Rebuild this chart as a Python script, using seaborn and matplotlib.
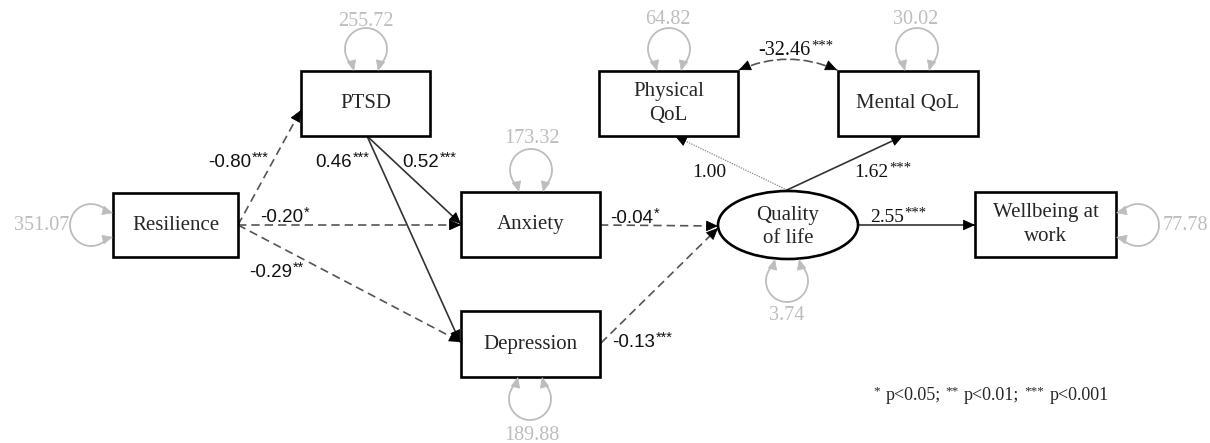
import numpy as np
import seaborn as sns
from matplotlib import pyplot as plt
from matplotlib.patches import Rectangle, Ellipse, Arc

# ---------------------------------------------------------------------------
# model values
nodes = ['Resilience', 'PTSD', 'Anxiety', 'Depression',
         'Physical\nQoL', 'Mental QoL', 'Quality\nof life', 'Wellbeing at\nwork']
variances = [351.07, 255.72, 173.32, 189.88, 64.82, 30.02, 3.74, 77.78]

path_from = ['Resilience', 'Resilience', 'Resilience', 'PTSD', 'PTSD',
             'Anxiety', 'Depression', 'Quality\nof life', 'Quality\nof life', 'Quality\nof life']
path_to = ['PTSD', 'Anxiety', 'Depression', 'Anxiety', 'Depression',
           'Quality\nof life', 'Quality\nof life', 'Physical\nQoL', 'Mental QoL', 'Wellbeing at\nwork']
estimates = [-0.80, -0.20, -0.29, 0.52, 0.46, -0.04, -0.13, 1.00, 1.62, 2.55]
signif = ['***', '*', '**', '***', '***', '*', '***', '', '***', '***']

cov_pair = ['Physical\nQoL', 'Mental QoL']
cov_estimate = -32.46
cov_signif = '***'

note_stars = ['*', '**', '***']
note_text = ['p<0.05;', 'p<0.01;', 'p<0.001']

# ---------------------------------------------------------------------------
# layout (pixel coordinates, y going down)
W, H = 1210, 443
box_layout = {
    'Resilience': (175.5, 225, 125, 64),
    'PTSD': (365.5, 103.5, 129, 65),
    'Anxiety': (530.5, 224.5, 139, 65),
    'Depression': (530.5, 344, 139, 66),
    'Physical\nQoL': (668.5, 103.5, 139, 65),
    'Mental QoL': (908, 103.5, 140, 65),
    'Wellbeing at\nwork': (1045.5, 224.5, 141, 65),
}
ellipse_layout = {'Quality\nof life': (788, 225, 140, 68)}

# loop centre, direction towards the node, label position, label alignment
loop_layout = {
    'Resilience': ((91, 225), 0, (69, 230), 'right'),
    'PTSD': ((366, 49), 90, (366, 26), 'center'),
    'Anxiety': ((531, 170), 90, (532, 143), 'center'),
    'Depression': ((530, 399), 270, (532, 440), 'center'),
    'Physical\nQoL': ((669, 49), 90, (668, 24), 'center'),
    'Mental QoL': ((917, 49), 90, (916, 24), 'center'),
    'Quality\nof life': ((787, 281), 270, (787, 320), 'center'),
    'Wellbeing at\nwork': ((1138, 225), 180, (1163, 230), 'left'),
}

line_styles = {'--': (0, (5, 3)), '-': '-', ':': (0, (1, 1))}

# start, end, line style, colour, label position, label family
edge_layout = [
    ((238, 225), (301, 110), '--', '#555555', (208, 167), 'Liberation Sans'),
    ((238, 225), (461, 225), '--', '#555555', (260, 222), 'Liberation Sans'),
    ((238, 225), (461, 342), '--', '#555555', (249, 277), 'Liberation Sans'),
    ((367, 136), (461, 224), '-', '#333333', (402, 167), 'Liberation Sans'),
    ((367, 136), (460, 342), '-', '#333333', (315, 167), 'Liberation Sans'),
    ((600, 225), (718, 226), '--', '#555555', (610, 223), 'Liberation Sans'),
    ((601, 343), (718, 228), '--', '#555555', (612, 347), 'Liberation Sans'),
    ((787, 190), (675, 136), ':', '#888888', (692, 177), 'Liberation Serif'),
    ((787, 190), (903, 136), '-', '#333333', (854, 177), 'Liberation Serif'),
    ((858, 225), (975, 225), '-', '#333333', (870, 222), 'Liberation Serif'),
]
cov_layout = ((739, 70), (837, 70), -0.22, (758, 55))
note_pos = (873, 400)

grey = '#bdbdbd'

# ---------------------------------------------------------------------------
sns.set_theme(style='white')
plt.rcParams['font.family'] = ['Liberation Serif', 'DejaVu Sans']

fig = plt.figure(figsize=(W / 100, H / 100), dpi=100)
ax = fig.add_axes([0, 0, 1, 1])
ax.set_xlim(0, W)
ax.set_ylim(H, 0)
ax.axis('off')


def head(p0, p1, color='black', size=10, scale=10):
    d = np.subtract(p1, p0).astype(float)
    d = d / np.hypot(*d)
    start = np.asarray(p1, float) - d * size
    ax.annotate('', xy=p1, xytext=start,
                arrowprops=dict(arrowstyle='-|>,head_length=0.75,head_width=0.34',
                                mutation_scale=scale, color=color, lw=0.6,
                                shrinkA=0, shrinkB=0))


def coef_label(x, y, value, stars, family, size):
    t = ax.text(x, y, f'{value:.2f}', fontsize=size, family=family,
                ha='left', va='baseline', color='#111111')
    if stars:
        ax.annotate(stars, xy=(1, y), xycoords=(t, 'data'),
                    xytext=(0.5, 4), textcoords='offset points',
                    fontsize=10.5, family=family, ha='left', va='baseline', color='#111111')


# nodes
for name in nodes:
    if name in box_layout:
        cx, cy, w, h = box_layout[name]
        ax.add_patch(Rectangle((cx - w / 2, cy - h / 2), w, h, fill=True, fc='white',
                               ec='black', lw=1.9, zorder=3))
        ax.text(cx, cy, name, ha='center', va='center', fontsize=15,
                linespacing=1.35, zorder=4)
    else:
        cx, cy, w, h = ellipse_layout[name]
        ax.add_patch(Ellipse((cx, cy), w, h, fc='white', ec='black', lw=1.9, zorder=3))
        ax.text(cx, cy + 2, name, ha='center', va='center', fontsize=15,
                linespacing=1.35, zorder=4)

# variance loops
r, spread = 21, 40
for name, var in zip(nodes, variances):
    (cx, cy), gap, (lx, ly), ha = loop_layout[name]
    ax.add_patch(Arc((cx, cy), 2 * r, 2 * r, theta1=gap + spread, theta2=gap - spread,
                     color=grey, lw=1.3, zorder=2))
    u = np.array([np.cos(np.radians(gap)), np.sin(np.radians(gap))])
    v = np.array([np.cos(np.radians(gap + 90)), np.sin(np.radians(gap + 90))])
    for sgn in (1, -1):
        a = np.radians(gap + sgn * spread)
        s = np.array([cx + r * np.cos(a), cy + r * np.sin(a)])
        tip = np.array([cx, cy]) + (r + 1) * u + sgn * 12 * v
        head(s, tip, color=grey, size=np.hypot(*(tip - s)), scale=9)
    ax.text(lx, ly, f'{var:.2f}', color=grey, fontsize=14.5, ha=ha, va='baseline')

# paths
for val, st, (p0, p1, ls, col, (lx, ly), fam) in zip(estimates, signif, edge_layout):
    lw = 0.9 if ls == ':' else 1.2
    ax.plot([p0[0], p1[0]], [p0[1], p1[1]], linestyle=line_styles[ls], color=col,
            lw=lw, zorder=1)
    head(p0, p1, color='black')
    size = 13.5 if fam == 'Liberation Sans' else 14
    coef_label(lx, ly, val, st, fam, size)

# covariance between the two QoL indicators
a, b, rad, (lx, ly) = cov_layout
ax.annotate('', xy=b, xytext=a,
            arrowprops=dict(arrowstyle='-', connectionstyle=f'arc3,rad={rad}',
                            color='#555555', lw=1.2, linestyle=(0, (5, 3)),
                            shrinkA=0, shrinkB=0))
ctrl = ((a[0] + b[0]) / 2, a[1] + rad * (b[0] - a[0]))
head(ctrl, a, color='black', size=9)
head(ctrl, b, color='black', size=9)
coef_label(lx, ly, cov_estimate, cov_signif, 'Liberation Serif', 14.5)

# significance note
prev = None
for st, txt in zip(note_stars, note_text):
    if prev is None:
        s = ax.text(note_pos[0], note_pos[1] - 6, st, fontsize=9.5, ha='left', va='baseline')
    else:
        s = ax.annotate(st, xy=(1, note_pos[1] - 6), xycoords=(prev, 'data'),
                        xytext=(3.5, 0), textcoords='offset points',
                        fontsize=9.5, ha='left', va='baseline')
    prev = ax.annotate(txt, xy=(1, note_pos[1]), xycoords=(s, 'data'),
                       xytext=(4, 0), textcoords='offset points',
                       fontsize=13, ha='left', va='baseline')

plt.savefig('out.png', dpi=100)
